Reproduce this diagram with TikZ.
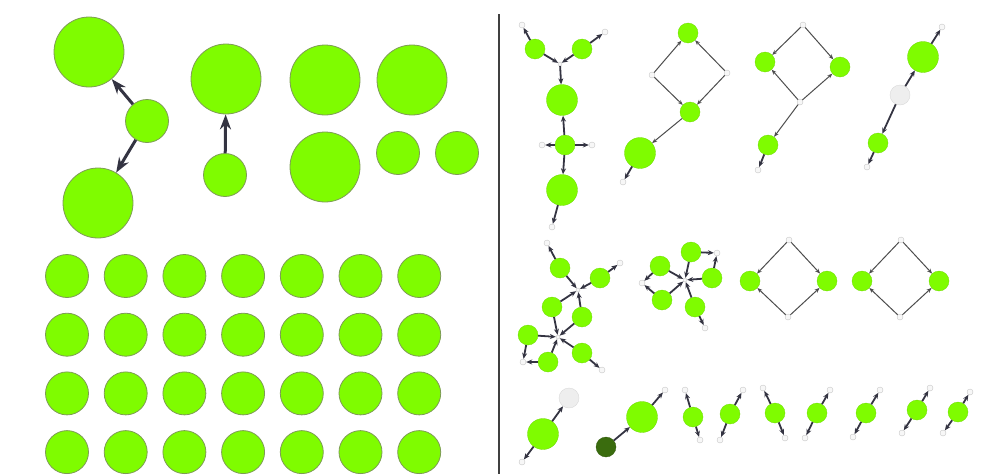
\documentclass[tikz,border=0pt]{standalone}
\usepackage{xcolor}
\usepackage{tikz}
\usetikzlibrary{arrows.meta}

\definecolor{leafgreen}{RGB}{127,252,0}
\definecolor{leafrim}{RGB}{125,155,85}
\definecolor{deepgreen}{RGB}{58,108,14}
\definecolor{ghostgray}{RGB}{238,238,238}
\definecolor{bondgray}{RGB}{52,52,66}

\tikzset{
  ball/.style={circle, fill=leafgreen, draw=leafrim, line width=0.8pt, inner sep=0pt},
  bigball/.style={ball, minimum size=70pt},
  midball/.style={ball, minimum size=43pt},
  atom/.style={circle, fill=leafgreen, draw=leafgreen!85!black, line width=0.3pt, inner sep=0pt, minimum size=20pt},
  bigatom/.style={atom, minimum size=31pt},
  darkatom/.style={atom, fill=deepgreen, draw=deepgreen!80!black},
  ghost/.style={circle, fill=ghostgray, draw=gray!30, line width=0.4pt, inner sep=0pt, minimum size=20pt},
  hatom/.style={circle, fill=gray!6, draw=gray!45, line width=0.4pt, inner sep=0pt, minimum size=6pt},
  hub/.style={hatom, minimum size=4pt},
  bigarrow/.style={-{Stealth[length=15pt,width=11pt]}, line width=3pt, draw=bondgray},
  bondarrow/.style={-{Stealth[length=6pt,width=5pt]}, line width=1.8pt, draw=bondgray},
  ring/.style={-{Stealth[length=5pt,width=4pt]}, line width=1pt, draw=gray!60!black}
}

\begin{document}
\begin{tikzpicture}[x=1pt, y=-1pt]
  \useasboundingbox (0,0) rectangle (981,474);

  % 1. LEFT PANEL, LARGE CLUSTERS
  \node[bigball] (ka) at (89,52) {};
  \node[midball] (kb) at (147,121) {};
  \node[bigball] (kc) at (98,203) {};
  \draw[bigarrow] (kb) -- (ka);
  \draw[bigarrow] (kb) -- (kc);

  \node[bigball] (kd) at (226,79) {};
  \node[midball] (ke) at (225,175) {};
  \draw[bigarrow] (ke) -- (kd);

  \node[bigball] (kf) at (325,80) {};
  \node[bigball] (kg) at (412,80) {};
  \node[bigball] (kh) at (325,167) {};
  \node[midball] (ki) at (398,153) {};
  \node[midball] (kj) at (457,153) {};

  % 2. LEFT PANEL, GRID OF SINGLES
  \foreach \i in {0,...,6}
    \foreach \j in {0,...,3}
      \node[midball] (g\i\j) at ({67+58.7*\i},{276+58.7*\j}) {};

  % divider
  \draw[line width=2pt, draw=black!75] (499,14) -- (499,474);

  % 3. RIGHT PANEL, TOP ROW
  % branched tree
  \node[hatom] (t1) at (522,25) {};
  \node[atom] (t2) at (535,49) {};
  \node[atom] (t3) at (582,49) {};
  \node[hatom] (t4) at (605,32) {};
  \node[hub] (t5) at (560,64) {};
  \node[bigatom] (t6) at (562,100) {};
  \node[atom] (t7) at (565,145) {};
  \node[hatom] (t8) at (542,145) {};
  \node[hatom] (t9) at (592,145) {};
  \node[bigatom] (t10) at (562,190) {};
  \node[hatom] (t11) at (552,227) {};
  \draw[bondarrow] (t2) -- (t1);
  \draw[bondarrow] (t3) -- (t4);
  \draw[bondarrow] (t2) -- (t5);
  \draw[bondarrow] (t3) -- (t5);
  \draw[bondarrow] (t5) -- (t6);
  \draw[bondarrow] (t7) -- (t6);
  \draw[bondarrow] (t7) -- (t10);
  \draw[bondarrow] (t7) -- (t8);
  \draw[bondarrow] (t7) -- (t9);
  \draw[bondarrow] (t10) -- (t11);

  % diamond with tail
  \node[atom] (d1) at (688,33) {};
  \node[hatom] (d2) at (652,75) {};
  \node[hatom] (d3) at (727,73) {};
  \node[atom] (d4) at (690,112) {};
  \node[bigatom] (d5) at (640,153) {};
  \node[hatom] (d6) at (623,182) {};
  \draw[ring] (d2) -- (d1);
  \draw[ring] (d3) -- (d1);
  \draw[ring] (d2) -- (d4);
  \draw[ring] (d3) -- (d4);
  \draw[ring] (d4) -- (d5);
  \draw[bondarrow] (d5) -- (d6);

  % open diamond
  \node[hatom] (e1) at (803,25) {};
  \node[atom] (e2) at (765,62) {};
  \node[atom] (e3) at (840,67) {};
  \node[hatom] (e4) at (800,102) {};
  \node[atom] (e5) at (768,145) {};
  \node[hatom] (e6) at (758,170) {};
  \draw[ring] (e1) -- (e2);
  \draw[ring] (e1) -- (e3);
  \draw[ring] (e4) -- (e2);
  \draw[ring] (e4) -- (e3);
  \draw[ring] (e4) -- (e5);
  \draw[bondarrow] (e5) -- (e6);

  % chain with grey member
  \node[hatom] (c1) at (942,27) {};
  \node[bigatom] (c2) at (923,57) {};
  \node[ghost] (c3) at (900,95) {};
  \node[atom] (c4) at (878,143) {};
  \node[hatom] (c5) at (867,167) {};
  \draw[bondarrow] (c2) -- (c1);
  \draw[bondarrow] (c3) -- (c2);
  \draw[bondarrow] (c3) -- (c4);
  \draw[bondarrow] (c4) -- (c5);

  % 4. RIGHT PANEL, MIDDLE ROW
  % double star
  \node[hatom] (s1) at (547,243) {};
  \node[atom] (s2) at (560,268) {};
  \node[atom] (s3) at (600,278) {};
  \node[hatom] (s4) at (620,263) {};
  \node[hub] (s5) at (578,290) {};
  \node[atom] (s6) at (552,307) {};
  \node[atom] (s7) at (582,317) {};
  \node[hub] (s8) at (558,337) {};
  \node[atom] (s9) at (528,335) {};
  \node[atom] (s10) at (548,362) {};
  \node[hatom] (s11) at (523,362) {};
  \node[atom] (s12) at (582,353) {};
  \node[hatom] (s13) at (602,370) {};
  \foreach \a/\b in {s2/s1, s3/s4, s2/s5, s3/s5, s6/s5, s7/s5, s6/s8, s7/s8,
                     s9/s8, s10/s8, s12/s8, s9/s11, s10/s11, s12/s13}
    \draw[bondarrow] (\a) -- (\b);

  % flower
  \node[atom] (f1) at (691,252) {};
  \node[hatom] (f2) at (717,253) {};
  \node[atom] (f3) at (712,278) {};
  \node[hub] (f4) at (685,280) {};
  \node[atom] (f5) at (660,266) {};
  \node[hatom] (f6) at (642,283) {};
  \node[atom] (f7) at (662,300) {};
  \node[atom] (f8) at (695,307) {};
  \node[hatom] (f9) at (705,328) {};
  \foreach \a/\b in {f1/f2, f3/f2, f1/f4, f3/f4, f5/f4, f7/f4, f8/f4,
                     f5/f6, f7/f6, f8/f9}
    \draw[bondarrow] (\a) -- (\b);

  % two closed diamonds
  \foreach \n/\x in {1/789, 2/901} {
    \node[hatom] (qt\n) at (\x,240) {};
    \node[atom] (ql\n) at ({\x-39},281) {};
    \node[atom] (qr\n) at ({\x+38},281) {};
    \node[hatom] (qb\n) at ({\x-1},317) {};
    \draw[ring] (qt\n) -- (ql\n);
    \draw[ring] (qt\n) -- (qr\n);
    \draw[ring] (qb\n) -- (ql\n);
    \draw[ring] (qb\n) -- (qr\n);
  }

  % 5. RIGHT PANEL, BOTTOM ROW
  \node[ghost] (b1) at (569,398) {};
  \node[bigatom] (b2) at (543,434) {};
  \node[hatom] (b3) at (522,462) {};
  \draw[bondarrow] (b2) -- (b1);
  \draw[bondarrow] (b2) -- (b3);

  \node[darkatom] (b4) at (606,447) {};
  \node[bigatom] (b5) at (642,417) {};
  \node[hatom] (b6) at (665,390) {};
  \draw[bondarrow] (b4) -- (b5);
  \draw[bondarrow] (b5) -- (b6);

  % pairs
  \foreach \n/\x/\y/\ux/\uy/\lx/\ly in {1/693/417/685/390/700/440,
      2/730/414/743/390/720/440, 3/775/413/763/388/785/438,
      4/817/413/830/390/805/438, 5/866/413/880/390/853/437,
      6/917/410/930/388/902/433, 7/958/412/970/392/943/433} {
    \node[atom] (pa\n) at (\x,\y) {};
    \node[hatom] (pu\n) at (\ux,\uy) {};
    \node[hatom] (pl\n) at (\lx,\ly) {};
    \draw[bondarrow] (pa\n) -- (pu\n);
    \draw[bondarrow] (pa\n) -- (pl\n);
  }

\end{tikzpicture}
\end{document}
